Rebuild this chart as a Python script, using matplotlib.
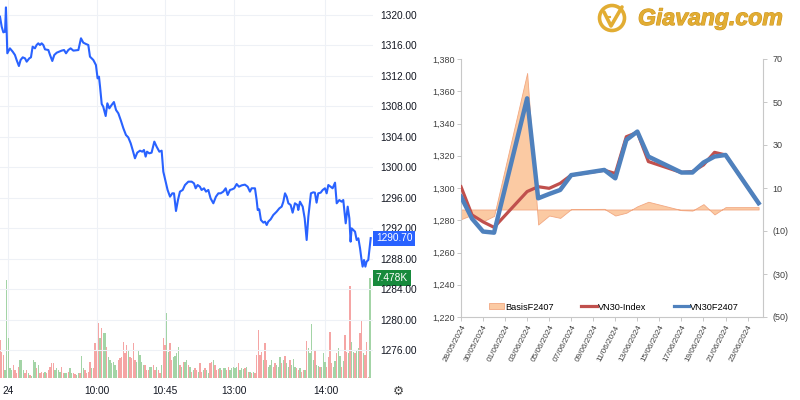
import numpy as np
import pandas as pd
import matplotlib
matplotlib.use("Agg")
import matplotlib.pyplot as plt
import matplotlib.transforms as mtransforms
from matplotlib.patches import Circle, Patch
from matplotlib.lines import Line2D
import matplotlib.patheffects as pe

plt.rcParams['font.family'] = ['Liberation Sans', 'DejaVu Sans']

# ---------------- Left pane: intraday (minutes since 09:00, lunch removed) ----------------
intraday_t = [-3.4, -2.3, -1.2, -0.1, 0.5, 1.4, 3.1, 4.9, 6.4, 7.5, 9.0, 10.1, 11.5, 13.0, 14.1, 15.8, 16.9,
              18.0, 19.5, 20.6, 21.7, 22.8, 23.9, 25.0, 26.1, 28.3, 29.4, 30.9, 32.2, 33.8, 35.5, 37.0, 38.6,
              39.9, 41.4, 42.9, 44.7, 48.0, 49.7, 51.2, 53.0, 54.5, 55.6, 57.8, 59.5, 60.6, 61.5, 62.2, 63.3,
              64.3, 65.9, 67.0, 68.3, 69.8, 71.3, 72.7, 74.2, 75.9, 77.5, 79.2, 80.7, 82.3, 83.6, 85.1, 86.6,
              88.4, 89.9, 91.0, 92.1, 93.0, 94.5, 96.0, 97.8, 99.3, 101.1, 102.6, 103.7, 105.2, 106.5, 108.1,
              109.6, 110.7, 112.0, 113.3, 114.6, 116.4, 117.9, 120.1, 122.3, 123.8, 124.9, 126.2, 127.7, 128.8,
              130.4, 131.7, 133.2, 134.7, 136.5, 138.2, 139.8, 141.3, 143.0, 144.6, 145.9, 147.4, 148.9, 150.2,
              151.8, 153.3, 155.1, 157.2, 159.0, 160.5, 161.6, 163.8, 164.9, 165.6, 166.6, 167.7, 169.3, 170.4,
              171.5, 172.5, 174.1, 175.8, 178.0, 179.8, 181.3, 182.4, 183.5, 184.6, 185.7, 187.2, 188.5, 190.0,
              191.6, 192.2, 193.3, 195.1, 196.4, 197.7, 198.8, 200.5, 202.0, 203.1, 204.2, 205.3, 206.9, 208.2,
              209.7, 210.8, 211.9, 213.4, 214.7, 216.3, 217.4, 219.1, 220.6, 221.7, 223.3, 224.6, 225.7, 226.5,
              227.2, 228.3, 229.4, 230.5, 231.6, 232.7, 233.7, 234.4, 235.3, 236.2, 237.0, 238.1, 239.7]
intraday_price = [1319.78, 1318.47, 1317.72, 1317.81, 1321.0, 1314.97, 1315.62, 1315.19, 1314.75, 1314.09, 1313.30,
                  1314.09, 1314.44, 1314.31, 1313.87, 1314.31, 1314.44, 1315.84, 1315.62, 1316.06, 1316.28, 1316.06,
                  1316.28, 1316.06, 1315.49, 1315.40, 1314.75, 1313.96, 1314.75, 1315.05, 1315.19, 1315.32, 1315.40,
                  1314.97, 1315.40, 1315.62, 1315.32, 1315.40, 1316.94, 1316.37, 1316.19, 1316.06, 1314.53, 1314.09,
                  1313.43, 1311.68, 1311.90, 1310.59, 1308.31, 1307.96, 1306.73, 1308.40, 1307.74, 1308.18, 1308.57,
                  1307.52, 1307.09, 1306.12, 1305.12, 1304.24, 1303.93, 1303.15, 1302.27, 1301.18, 1301.92, 1302.18,
                  1302.05, 1302.27, 1301.40, 1302.05, 1301.83, 1301.92, 1303.37, 1302.71, 1302.05, 1302.18, 1299.42,
                  1298.11, 1297.02, 1296.14, 1296.58, 1296.58, 1294.26, 1295.70, 1296.80, 1297.02, 1297.67, 1298.11,
                  1298.11, 1297.89, 1297.24, 1297.67, 1297.45, 1297.02, 1297.24, 1296.80, 1297.02, 1295.92, 1295.27,
                  1296.14, 1296.58, 1296.58, 1296.80, 1297.24, 1296.36, 1297.02, 1297.11, 1297.24, 1297.80, 1297.45,
                  1297.63, 1297.72, 1297.45, 1296.80, 1297.24, 1297.24, 1295.70, 1294.39, 1294.48, 1293.08, 1292.73,
                  1292.86, 1292.42, 1292.86, 1293.17, 1293.73, 1294.17, 1294.61, 1294.83, 1295.48, 1296.58, 1296.14,
                  1295.27, 1295.05, 1294.04, 1295.27, 1295.05, 1294.39, 1295.48, 1294.83, 1293.30, 1290.45, 1293.52,
                  1296.58, 1296.71, 1296.67, 1295.35, 1296.58, 1296.67, 1297.02, 1297.24, 1296.58, 1297.67, 1297.45,
                  1297.24, 1297.98, 1295.27, 1295.70, 1295.48, 1295.70, 1292.64, 1294.83, 1293.30, 1290.23, 1291.98,
                  1291.76, 1291.55, 1290.45, 1290.67, 1289.36, 1287.82, 1286.95, 1287.82, 1286.95, 1287.61, 1287.82,
                  1290.70]

volume = [2850, 1975, 1725, 600, 7350, 2975, 725, 600, 975, 600,
          350, 850, 1350, 1350, 600, 350, 600, 350, 225, 150,
          1350, 1225, 725, 975, 350, 475, 350, 475, 350, 600,
          850, 1100, 1100, 600, 725, 600, 475, 850, 350, 350,
          350, 475, 725, 350, 350, 300, 225, 350, 350, 1650,
          725, 600, 350, 475, 1225, 725, 725, 2600, 2100, 4100,
          2975, 3725, 3350, 3350, 2350, 1600, 1350, 1100, 1225, 975,
          600, 1350, 1475, 1600, 2725, 1850, 2475, 2100, 1600, 1475,
          2600, 1350, 1225, 2100, 1725, 1225, 975, 975, 600, 600,
          850, 850, 975, 600, 850, 600, 350, 975, 2975, 2475,
          4850, 1975, 2600, 1350, 1600, 1650, 1850, 2350, 975, 850,
          1225,
          1225, 1350, 975, 850, 475, 600, 725, 600, 475, 1100,
          475, 600, 725, 600, 350, 1150, 1225, 1350, 975, 600,
          650, 725, 600, 725, 775, 600, 850, 600, 725, 800,
          775, 850, 1150, 600, 725, 650, 725, 850, 475, 475,
          350, 475, 350, 1725, 3600, 1725, 1975, 1350, 2600, 1350,
          850, 975, 1350, 850, 1100, 975, 850, 1550, 1100, 1350,
          1650, 1100, 850, 1350, 975, 1400, 850, 725, 600, 725,
          475, 600, 600, 2800, 2225, 1850, 4025, 1350, 2100, 975,
          900, 850, 850, 1850, 1225, 850, 1550, 3450, 1100, 800,
          1300, 1850, 2225, 1650, 850, 1300, 3225, 1975, 1850, 6850,
          2725, 1975, 1900, 2100, 2225, 3400, 4350, 1850, 1725, 2725,
          100, 7478]
volume_dir = ("RRRGGGGGRR" "RRGGGRRGRG" "GGRGRRRGRR" "RRRGGGGRRG" "GRGGRRGGRG" "GRRRRGRRRR"
              "GRGGRGGGGG" "GRRRRRRGRR" "RRGGGGGRRR" "GGRRGRRGRR" "GGRRGGGGRG" "R"
              "GGRGRGRRGR" "RGRGGRRGRR" "RGRGGRRGGG" "GGRGGGRGRG" "RGRRRRRGRR" "GGGRRGGGRG"
              "RGGRGGGRRG" "RRGRGGGGRG" "GRGGGRRRRG" "GRGGRGRRGR" "GGRGGRRGRR" "RG")
volume_t_range = (-3.4, 239.2)

time_tick_pos = [2, 60, 105, 150, 210]
time_tick_labels = ["24", "10:00", "10:45", "13:00", "14:00"]
price_ticks = list(range(1276, 1321, 4))
last_price = 1290.70
last_volume_label = "7.478K"

# ---------------- Right pane: daily VN30 vs VN30F2407 ----------------
dates = ["28/05/2024", "29/05/2024", "30/05/2024", "31/05/2024", "03/06/2024", "04/06/2024", "05/06/2024",
         "06/06/2024", "07/06/2024", "10/06/2024", "11/06/2024", "12/06/2024", "13/06/2024", "14/06/2024",
         "17/06/2024", "18/06/2024", "19/06/2024", "20/06/2024", "21/06/2024", "24/06/2024"]
vn30f2407 = [1294.6, 1281.0, 1273.0, 1272.3, 1355.6, 1293.6, 1296.3, 1298.8, 1308.0, 1311.2,
             1306.0, 1329.8, 1335.0, 1319.5, 1309.6, 1309.6, 1315.8, 1319.5, 1320.5, 1290.6]
vn30_index = [1300.8, 1283.3, 1279.0, 1275.6, 1297.8, 1300.8, 1299.8, 1302.9, 1308.0, 1311.0,
              1309.0, 1331.8, 1334.5, 1316.4, 1309.6, 1310.2, 1314.3, 1322.1, 1320.5, 1290.6]
basis_f2407 = [-4.5, -2.5, -5.5, -3.0, 63.5, -7.0, -2.8, -3.9, 0.2, 0.3,
               -2.8, -1.5, 1.5, 3.6, -0.3, -0.5, 2.5, -2.3, 1.1, 1.1]
series_names = ["BasisF2407", "VN30-Index", "VN30F2407"]

W, H = 800, 400
fig = plt.figure(figsize=(8, 4), dpi=100)
fig.patch.set_facecolor("white")


def rect(x0, y0, x1, y1):
    return [x0 / W, 1 - y1 / H, (x1 - x0) / W, (y1 - y0) / H]


# ---- volume axes (behind) ----
axV = fig.add_axes(rect(0, 0, 373, 378))
axV.set_zorder(1)
vt = np.linspace(volume_t_range[0], volume_t_range[1], len(volume))
vcols = ['#a3d4a6' if d == 'G' else '#f5a5a4' for d in volume_dir]
axV.bar(vt, volume, width=0.75, color=vcols, linewidth=0)
axV.set_xlim(-3.4, 241.2)
axV.set_ylim(0, 378 * 74.78)
for s in axV.spines.values():
    s.set_visible(False)
axV.set_xticks(time_tick_pos)
axV.grid(axis='x', color='#eef1f6', lw=0.8)
axV.tick_params(axis='x', length=0, labelbottom=False)
axV.set_yticks([])
axV.set_axisbelow(True)

# ---- price axes ----
axP = fig.add_axes(rect(0, 0, 373, 378))
axP.set_zorder(2)
axP.patch.set_visible(False)
axP.plot(intraday_t, intraday_price, color='#2962ff', lw=1.5, solid_joinstyle='round', zorder=3)
axP.set_xlim(-3.4, 241.2)
axP.set_ylim(1320 - 363 / 7.614, 1320 + 15 / 7.614)
for s in axP.spines.values():
    s.set_visible(False)
axP.yaxis.tick_right()
axP.set_yticks(price_ticks)
axP.set_yticklabels([f"{v:.2f}" for v in price_ticks])
axP.tick_params(axis='y', length=0, pad=5, labelsize=7.3, labelcolor='#131722')
axP.set_xticks(time_tick_pos)
axP.set_xticklabels(time_tick_labels)
axP.tick_params(axis='x', length=0, pad=6, labelsize=7.3, labelcolor='#131722')
axP.grid(axis='y', color='#eef1f6', lw=0.8, zorder=0)

btr = mtransforms.blended_transform_factory(axP.transAxes, axP.transData)
axP.text(1.0 + 3 / 373, last_price, f"{last_price:.2f}", transform=btr, ha='left', va='center',
         color='white', fontsize=7.3, zorder=5, clip_on=False,
         bbox=dict(boxstyle='square,pad=0.25', fc='#2962ff', ec='none'))
btv = mtransforms.blended_transform_factory(axV.transAxes, axV.transData)
axV.text(1.0 + 3 / 373, volume[-1], last_volume_label, transform=btv, ha='left', va='center',
         color='white', fontsize=7.3, zorder=5, clip_on=False,
         bbox=dict(boxstyle='square,pad=0.25', fc='#178a3c', ec='none'))

# ---- right chart ----
d = pd.to_datetime(pd.Series(dates), format="%d/%m/%Y")
d0 = d.iloc[0]
xd = (d - d0).dt.days.values

axB = fig.add_axes(rect(461, 59, 763, 317))
axL = axB.twinx()

axB.fill_between(xd, basis_f2407, 0, facecolor='#fbcaa3', edgecolor='#f2a882', lw=0.6, zorder=1)
axB.set_ylim(-50, 70)
axB.set_yticks(range(-50, 71, 20))
axB.set_yticklabels([f"({-v})" if v < 0 else f"{v}" for v in range(-50, 71, 20)])
axB.set_xlim(0, 27.4)
xt = list(range(0, 27, 2))
axB.set_xticks(xt)
axB.set_xticklabels([(d0 + pd.Timedelta(days=k)).strftime("%d/%m/%Y") for k in xt],
                    rotation=62, ha='right', va='top', rotation_mode='anchor')
axB.tick_params(axis='x', length=3, width=0.6, color='#bfbfbf', labelsize=5.9, labelcolor='#404040', pad=2)
axB.tick_params(axis='y', which='both', left=False, labelleft=False, right=True, labelright=True,
                length=3, width=0.6, color='#bfbfbf', labelsize=6.5, labelcolor='#404040', pad=4)
axB.spines['top'].set_visible(False)
for k in ['left', 'right', 'bottom']:
    axB.spines[k].set_color('#c8c8c8')
    axB.spines[k].set_linewidth(0.8)

axL.plot(xd, vn30_index, color='#c0504d', lw=2.3, solid_joinstyle='round', zorder=2)
axL.plot(xd, vn30f2407, color='#4f81bd', lw=3.2, solid_joinstyle='round', zorder=3)
axL.set_ylim(1220, 1380)
axL.set_yticks(range(1220, 1381, 20))
axL.set_yticklabels([f"{v:,}" for v in range(1220, 1381, 20)])
axL.tick_params(axis='y', which='both', left=True, labelleft=True, right=False, labelright=False,
                length=3, width=0.6, color='#bfbfbf', labelsize=6.5, labelcolor='#404040', pad=1.5)
for s in axL.spines.values():
    s.set_visible(False)

handles = [Patch(facecolor='#fbcaa3', edgecolor='#f2a882', lw=0.6),
           Line2D([], [], color='#c0504d', lw=2.3),
           Line2D([], [], color='#4f81bd', lw=2.3)]
fig.legend(handles, series_names, loc='center', bbox_to_anchor=(614 / W, 1 - 307 / H), ncol=3,
           frameon=False, fontsize=6.6, handlelength=1.7, handleheight=0.6, handletextpad=0.1,
           columnspacing=3.0)

# ---- overlay: logo and gear icon (pixel coordinates) ----
ov = fig.add_axes([0, 0, 1, 1])
ov.set_zorder(10)
ov.patch.set_visible(False)
ov.set_xlim(0, W)
ov.set_ylim(H, 0)
ov.axis('off')
gold = '#e2ad33'
ov.add_patch(Circle((612, 18), 12.5, fill=False, ec=gold, lw=2.6))
ov.plot([604, 611, 622], [12, 26, 7], color=gold, lw=2.6, solid_capstyle='round', solid_joinstyle='round')
ov.plot([607, 610], [17, 17], color=gold, lw=1.5)
ov.text(638, 18.5, "Giavang.com", fontsize=16.6, fontweight='bold', style='italic', color=gold,
        ha='left', va='center',
        path_effects=[pe.withStroke(linewidth=0.8, foreground='#cf9620')])
ov.text(398, 391, "\u2699", fontsize=9, color='#444444', ha='center', va='center', family='DejaVu Sans')

fig.savefig("out.png", dpi=100, facecolor='white')
